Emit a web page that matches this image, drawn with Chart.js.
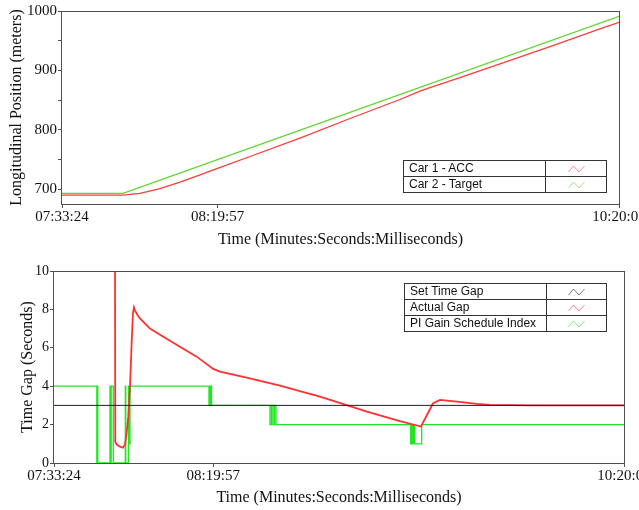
<!DOCTYPE html>
<html>
<head>
<meta charset="utf-8">
<title>ACC run</title>
<script src="https://cdn.jsdelivr.net/npm/chart.js@4.4.1/dist/chart.umd.min.js"></script>
<style>
  body { margin: 0; background: #fff; }
  #wrap { position: relative; width: 639px; height: 510px; }
  canvas { display: block; }
  .legend { position: absolute; border-collapse: collapse; table-layout: fixed;
            font-family: "Liberation Sans", Arial, sans-serif; font-size: 12px; color: #111; }
  .legend td { border: 1px solid #333; padding: 0 0 0 5px; height: 15px; line-height: 15px; white-space: nowrap; }
  .legend td.icon { padding: 0; text-align: center; }
  .legend svg { display: inline-block; vertical-align: middle; }
</style>
</head>
<body>
<div id="wrap">
  <canvas id="posChart" width="639" height="255"></canvas>
  <canvas id="gapChart" width="639" height="255"></canvas>
  <table class="legend" id="posLegend" style="left:403px; top:160px; width:204px;"></table>
  <table class="legend" id="gapLegend" style="left:404px; top:283px; width:203px;"></table>
</div>
<script>
// x values are seconds elapsed since 07:33:24
const START_SEC = 27204;
const xTickValues = [0, 2793, 9999];

// top panel: longitudinal position (m)
const car1Time = [0, 1095, 1400, 1759, 2118, 2477, 2793, 3375, 4272, 5170, 6067, 6426, 6606, 7144, 7862, 8760, 9657, 9999];
const car1Pos  = [690, 690, 693, 701, 712, 724, 735, 755, 786, 819, 851, 865, 871, 888, 911, 940, 970, 981];
const car2Time = [0, 1095, 9999];
const car2Pos  = [693, 693, 991];
const posTicks = [700, 750, 800, 850, 900, 950, 1000];

// bottom panel: time gap (s)
const setGapTime = [0, 9999];
const setGap     = [3, 3];
const actualGapTime = [1070, 1075, 1105, 1158, 1210, 1245, 1272, 1303, 1333, 1363, 1385, 1403, 1420, 1456, 1508,
                       1684, 1917, 2210, 2503, 2794, 2912, 3380, 3964, 4666, 5490, 6069, 6437, 6648, 6770, 7069,
                       7419, 7647, 8349, 9999];
const actualGap     = [10.5, 1.1, 0.95, 0.85, 0.8, 0.95, 1.5, 2.4, 4.0, 6.3, 7.8, 8.1, 7.95, 7.75, 7.53,
                       7.0, 6.58, 6.06, 5.54, 4.9, 4.76, 4.45, 4.03, 3.46, 2.68, 2.18, 1.9, 3.1, 3.29, 3.2,
                       3.08, 3.03, 3.0, 3.0];
const gainTime  = [0, 751, 760, 768, 982, 993, 1003, 1040, 1251, 1259, 1307, 1316, 1333,
                   2719, 2729, 2742, 2754, 2764, 3789, 3815, 3841, 3868, 3894, 3920,
                   6257, 6270, 6288, 6306, 6323, 6450, 9999];
const gainIndex = [4, 0, 4, 0, 4, 0, 4, 0, 4, 0, 4, 1, 4,
                   3, 4, 3, 4, 3, 2, 3, 2, 3, 2, 2,
                   1, 2, 1, 2, 1, 2, 2];
const gapTicks = [0, 1, 2, 3, 4, 5, 6, 7, 8, 9, 10];

function pts(xs, ys) {
  return xs.map((x, i) => ({x: x, y: ys[i]}));
}

function fmtTime(v) {
  const s = START_SEC + Math.round(v);
  const p = n => String(n).padStart(2, '0');
  return p(Math.floor(s / 3600)) + ':' + p(Math.floor(s / 60) % 60) + ':' + p(s % 60);
}

const framePlugin = {
  id: 'frame',
  afterDraw(chart) {
    const a = chart.chartArea, ctx = chart.ctx;
    ctx.save();
    ctx.strokeStyle = '#505050';
    ctx.lineWidth = 1;
    ctx.strokeRect(Math.round(a.left) - 0.5, Math.round(a.top) + 0.5,
                   Math.round(a.right - a.left) + 1, Math.round(a.bottom - a.top));
    ctx.restore();
  }
};

const serif = '"Liberation Serif", "DejaVu Serif", serif';

function makeChart(id, datasets, opt) {
  return new Chart(document.getElementById(id), {
    type: 'line',
    data: {datasets: datasets},
    plugins: [framePlugin],
    options: {
      responsive: false,
      animation: false,
      devicePixelRatio: 1,
      layout: {padding: opt.padding},
      elements: {point: {radius: 0}, line: {tension: 0}},
      plugins: {legend: {display: false}, tooltip: {enabled: false}},
      scales: {
        x: {
          type: 'linear', min: 0, max: 9999,
          border: {display: false},
          grid: {drawOnChartArea: false, color: '#505050', tickLength: 4},
          afterBuildTicks: s => { s.ticks = xTickValues.map(v => ({value: v})); },
          afterFit: s => { s.height = opt.xHeight; s.paddingLeft = 0; s.paddingRight = 0; },
          ticks: {color: '#111', padding: 0, maxRotation: 0, font: {family: serif, size: 15},
                  callback: v => fmtTime(v)},
          title: {display: true, text: 'Time (Minutes:Seconds:Milliseconds)', color: '#111',
                  font: {family: serif, size: 16}, padding: {top: 0, bottom: opt.xTitlePad}}
        },
        y: {
          min: opt.yMin, max: opt.yMax,
          border: {display: false},
          grid: {drawOnChartArea: false, color: '#505050', tickLength: 4},
          afterBuildTicks: s => { s.ticks = opt.yTicks.map(v => ({value: v})); },
          afterFit: s => { s.width = opt.yWidth; s.paddingTop = 0; s.paddingBottom = 0; },
          ticks: {color: '#111', padding: 1, font: {family: serif, size: opt.yFont},
                  callback: v => (v % opt.yLabelStep === 0 ? v : '')},
          title: {display: true, text: opt.yTitle, color: '#111',
                  font: {family: serif, size: 16}, padding: {top: opt.yTitlePad, bottom: 0}}
        }
      }
    }
  });
}

const posChart = makeChart('posChart', [
  {label: 'Car 1 - ACC', data: pts(car1Time, car1Pos), borderColor: '#ff3b3b', borderWidth: 1.3},
  {label: 'Car 2 - Target', data: pts(car2Time, car2Pos), borderColor: '#5fd52e', borderWidth: 1.3}
], {padding: {left: 0, right: 20, top: 11, bottom: 0}, xHeight: 51, xTitlePad: 6,
    yMin: 675, yMax: 1000, yTicks: posTicks, yWidth: 62, yFont: 15, yLabelStep: 100,
    yTitle: 'Longitudinal Position (meters)', yTitlePad: 7});

const gapChart = makeChart('gapChart', [
  {label: 'Set Time Gap', data: pts(setGapTime, setGap), borderColor: '#202020', borderWidth: 1},
  {label: 'Actual Gap', data: pts(actualGapTime, actualGap), borderColor: '#ff3030', borderWidth: 1.8},
  {label: 'PI Gain Schedule Index', data: pts(gainTime, gainIndex), borderColor: '#22e622', borderWidth: 1.3, stepped: true}
], {padding: {left: 0, right: 15, top: 16, bottom: 0}, xHeight: 47, xTitlePad: 3,
    yMin: 0, yMax: 10, yTicks: gapTicks, yWidth: 54, yFont: 14, yLabelStep: 2,
    yTitle: 'Time Gap (Seconds)', yTitlePad: 18});

function buildLegend(tableId, chart) {
  const table = document.getElementById(tableId);
  const rows = chart.data.datasets.map(ds =>
    '<tr><td style="width:136px">' + ds.label + '</td>' +
    '<td class="icon"><svg width="17" height="8"><polyline points="0.5,7 5.5,1 11,7 16.5,1" ' +
    'fill="none" stroke="' + ds.borderColor + '" stroke-opacity="0.6" stroke-width="1"/></svg></td></tr>');
  table.innerHTML = rows.join('');
}
buildLegend('posLegend', posChart);
buildLegend('gapLegend', gapChart);
</script>
</body>
</html>
